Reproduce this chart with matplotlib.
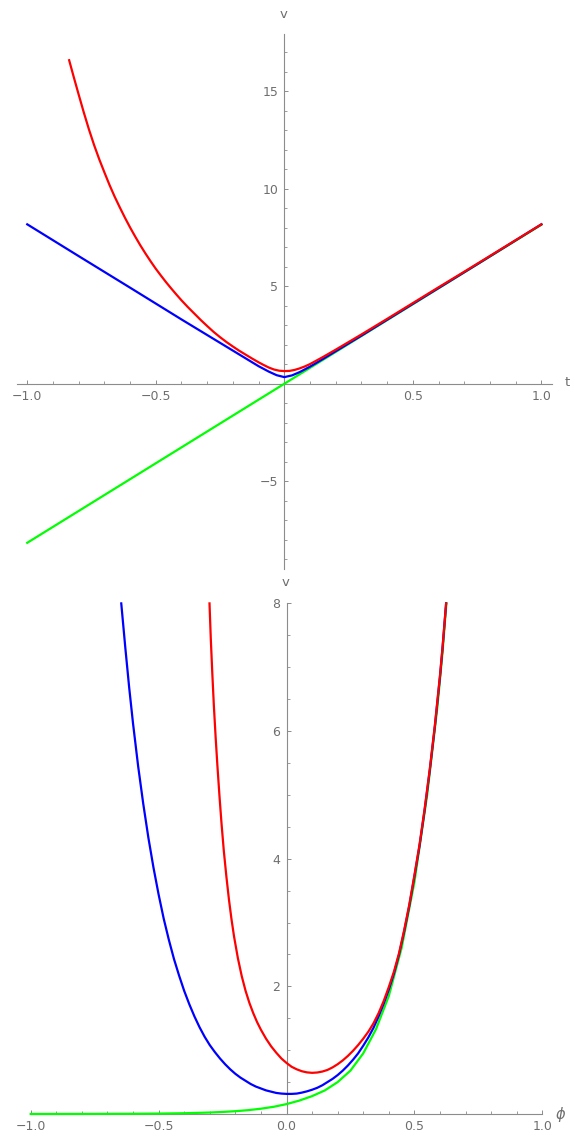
import matplotlib
matplotlib.use("Agg")
import matplotlib.pyplot as plt
from matplotlib.ticker import FixedLocator, FixedFormatter

# ---- top panel: v against t ----
t_green = [-1.0, -0.5, 0.0, 0.5, 1.0]
v_green = [-8.16, -4.08, 0.0, 4.08, 8.16]

t_blue = [-1.0, -0.8, -0.6, -0.4, -0.3, -0.2, -0.15, -0.1, -0.06, -0.03, 0.0,
          0.03, 0.06, 0.1, 0.15, 0.2, 0.3, 0.5, 0.75, 1.0]
v_blue = [8.18, 6.55, 4.93, 3.3, 2.5, 1.7, 1.3, 0.9, 0.62, 0.44, 0.34,
          0.43, 0.6, 0.88, 1.27, 1.67, 2.47, 4.1, 6.13, 8.18]

t_red = [-0.837, -0.82, -0.8, -0.78, -0.76, -0.74, -0.72, -0.7, -0.68, -0.66,
         -0.64, -0.62, -0.6, -0.58, -0.56, -0.54, -0.52, -0.5, -0.48, -0.46,
         -0.44, -0.42, -0.4, -0.375, -0.35, -0.325, -0.3, -0.275, -0.25, -0.225,
         -0.2, -0.175, -0.15, -0.125, -0.1, -0.08, -0.06, -0.04, -0.02, 0.0,
         0.02, 0.04, 0.06, 0.08, 0.1, 0.125, 0.15, 0.175, 0.2, 0.25, 0.3,
         0.4, 0.5, 0.6, 0.7, 0.8, 0.9, 1.0]
v_red = [16.6, 15.78, 14.84, 13.92, 13.05, 12.25, 11.52, 10.85, 10.2, 9.6,
         9.05, 8.52, 8.02, 7.55, 7.1, 6.68, 6.28, 5.9, 5.55, 5.21,
         4.89, 4.58, 4.28, 3.93, 3.6, 3.27, 2.96, 2.66, 2.39, 2.14,
         1.91, 1.69, 1.49, 1.29, 1.1, 0.96, 0.83, 0.73, 0.67, 0.65,
         0.66, 0.71, 0.79, 0.89, 1.01, 1.19, 1.37, 1.56, 1.75, 2.14, 2.53,
         3.33, 4.14, 4.95, 5.75, 6.56, 7.37, 8.18]

# ---- bottom panel: v against phi ----
p_green = [-1.0, -0.8, -0.6, -0.5, -0.4, -0.3, -0.25, -0.2, -0.15, -0.1, -0.05,
           0.0, 0.05, 0.1, 0.15, 0.2, 0.25, 0.3, 0.35, 0.4, 0.45, 0.5, 0.55,
           0.59, 0.61, 0.625]
v_green2 = [0.0003, 0.001, 0.0035, 0.0067, 0.012, 0.023, 0.032, 0.044, 0.06, 0.083, 0.113,
            0.155, 0.21, 0.28, 0.37, 0.5, 0.68, 0.95, 1.33, 1.85, 2.6, 3.63, 5.0,
            6.38, 7.23, 8.0]

p_blue = [-0.646, -0.63, -0.615, -0.6, -0.58, -0.56, -0.54, -0.52, -0.5, -0.48,
          -0.46, -0.44, -0.42, -0.4, -0.38, -0.36, -0.34, -0.32, -0.3, -0.28,
          -0.26, -0.24, -0.22, -0.2, -0.18, -0.16, -0.14, -0.12, -0.1, -0.08,
          -0.06, -0.04, -0.02, 0.0, 0.02, 0.04, 0.06, 0.08, 0.1, 0.12, 0.14,
          0.16, 0.18, 0.2, 0.22, 0.24, 0.26, 0.28, 0.3, 0.32, 0.34, 0.36, 0.38,
          0.4, 0.42, 0.44, 0.46, 0.48, 0.5, 0.52, 0.54, 0.56, 0.58, 0.6, 0.61,
          0.624]
v_blue2 = [8.0, 7.3, 6.68, 6.12, 5.45, 4.86, 4.33, 3.86, 3.44, 3.06,
           2.73, 2.43, 2.17, 1.93, 1.72, 1.53, 1.36, 1.21, 1.08, 0.97,
           0.87, 0.78, 0.7, 0.63, 0.57, 0.52, 0.47, 0.43, 0.4, 0.37,
           0.35, 0.33, 0.32, 0.315, 0.315, 0.32, 0.335, 0.355, 0.38, 0.41, 0.45,
           0.5, 0.55, 0.61, 0.68, 0.76, 0.85, 0.95, 1.07, 1.2, 1.35, 1.53, 1.73,
           1.95, 2.2, 2.5, 2.86, 3.26, 3.72, 4.2, 4.76, 5.38, 6.07, 6.85, 7.3,
           8.0]

p_red = [-0.301, -0.296, -0.29, -0.284, -0.277, -0.27, -0.262, -0.254, -0.245,
         -0.235, -0.225, -0.215, -0.205, -0.19, -0.175, -0.16, -0.145, -0.13,
         -0.115, -0.1, -0.08, -0.06, -0.04, -0.02, 0.0, 0.02, 0.04, 0.06, 0.08,
         0.1, 0.12, 0.14, 0.16, 0.18, 0.2, 0.22, 0.24, 0.26, 0.28, 0.3, 0.32,
         0.34, 0.36, 0.38, 0.4, 0.42, 0.44, 0.46, 0.48, 0.5, 0.52, 0.54, 0.56,
         0.58, 0.6, 0.61, 0.624]
v_red2 = [8.0, 7.45, 6.9, 6.4, 5.9, 5.45, 4.98, 4.55, 4.12,
          3.72, 3.36, 3.05, 2.78, 2.44, 2.16, 1.93, 1.74, 1.58,
          1.44, 1.32, 1.18, 1.06, 0.96, 0.87, 0.8, 0.74, 0.7, 0.67, 0.652,
          0.645, 0.65, 0.665, 0.69, 0.73, 0.78, 0.84, 0.91, 0.99, 1.08, 1.18, 1.29,
          1.42, 1.58, 1.77, 1.99, 2.23, 2.52, 2.88, 3.28, 3.74, 4.22, 4.78, 5.4,
          6.09, 6.87, 7.31, 8.0]

W, H = 575, 1138
axis_col = "#8c8c8c"
text_col = "#6e6e6e"
lw = 1.6

fig = plt.figure(figsize=(W / 100, H / 100), dpi=100)
fig.patch.set_facecolor("white")


def style_axes(ax):
    for side in ["top", "right"]:
        ax.spines[side].set_visible(False)
    for side in ["left", "bottom"]:
        ax.spines[side].set_position(("data", 0))
        ax.spines[side].set_color(axis_col)
        ax.spines[side].set_linewidth(0.8)
    ax.tick_params(which="both", direction="in", color=axis_col,
                   labelcolor=text_col, labelsize=9, pad=4.5)
    ax.tick_params(which="major", length=3.2, width=0.7)
    ax.tick_params(which="minor", length=1.9, width=0.6)
    ax.set_facecolor("none")


# top panel
ax1 = fig.add_axes([16.7 / W, 1 - 569.3 / H, 535 / W, 535 / H])
ax1.plot(t_green, v_green, color="#00ff00", lw=lw, zorder=3)
ax1.plot(t_blue, v_blue, color="#0000ff", lw=lw, zorder=3)
ax1.plot(t_red, v_red, color="#ff0000", lw=lw, zorder=3)
ax1.set_xlim(-1.041, 1.040)
ax1.set_ylim(-9.52, 17.93)
style_axes(ax1)
ax1.xaxis.set_major_locator(FixedLocator([-1.0, -0.5, 0.5, 1.0]))
ax1.xaxis.set_major_formatter(FixedFormatter(["\u22121.0", "\u22120.5", "0.5", "1.0"]))
ax1.xaxis.set_minor_locator(FixedLocator([-0.9, -0.8, -0.7, -0.6, -0.4, -0.3, -0.2, -0.1,
                                          0.1, 0.2, 0.3, 0.4, 0.6, 0.7, 0.8, 0.9]))
ax1.yaxis.set_major_locator(FixedLocator([-5, 5, 10, 15]))
ax1.yaxis.set_major_formatter(FixedFormatter(["\u22125", "5", "10", "15"]))
ax1.yaxis.set_minor_locator(FixedLocator([-9, -8, -7, -6, -4, -3, -2, -1, 1, 2, 3, 4,
                                          6, 7, 8, 9, 11, 12, 13, 14, 16, 17]))

# bottom panel
ax2 = fig.add_axes([30.7 / W, 1 - 1114 / H, 511.6 / W, 510.6 / H])
ax2.plot(p_green, v_green2, color="#00ff00", lw=lw, zorder=3, clip_on=False)
ax2.plot(p_blue, v_blue2, color="#0000ff", lw=lw, zorder=3, clip_on=False)
ax2.plot(p_red, v_red2, color="#ff0000", lw=lw, zorder=3, clip_on=False)
ax2.set_xlim(-1, 1)
ax2.set_ylim(0, 8)
style_axes(ax2)
ax2.xaxis.set_major_locator(FixedLocator([-1.0, -0.5, 0.0, 0.5, 1.0]))
ax2.xaxis.set_major_formatter(FixedFormatter(["\u22121.0", "\u22120.5", "0.0", "0.5", "1.0"]))
ax2.xaxis.set_minor_locator(FixedLocator([-0.9, -0.8, -0.7, -0.6, -0.4, -0.3, -0.2, -0.1,
                                          0.1, 0.2, 0.3, 0.4, 0.6, 0.7, 0.8, 0.9]))
ax2.yaxis.set_major_locator(FixedLocator([2, 4, 6, 8]))
ax2.yaxis.set_major_formatter(FixedFormatter(["2", "4", "6", "8"]))
ax2.yaxis.set_minor_locator(FixedLocator([0.5, 1, 1.5, 2.5, 3, 3.5, 4.5, 5, 5.5,
                                          6.5, 7, 7.5]))

# axis labels
fig.text(284 / W, 1 - 15 / H, "v", color=text_col, fontsize=9.5, ha="center", va="center")
fig.text(567 / W, 1 - 383 / H, "t", color=text_col, fontsize=9.5, ha="center", va="center")
fig.text(286 / W, 1 - 583 / H, "v", color=text_col, fontsize=9.5, ha="center", va="center")
fig.text(560 / W, 1 - 1114 / H, "\u03d5", color=text_col, fontsize=10.5, style="italic",
         ha="center", va="center")

fig.savefig("out.png", dpi=100, facecolor="white")
